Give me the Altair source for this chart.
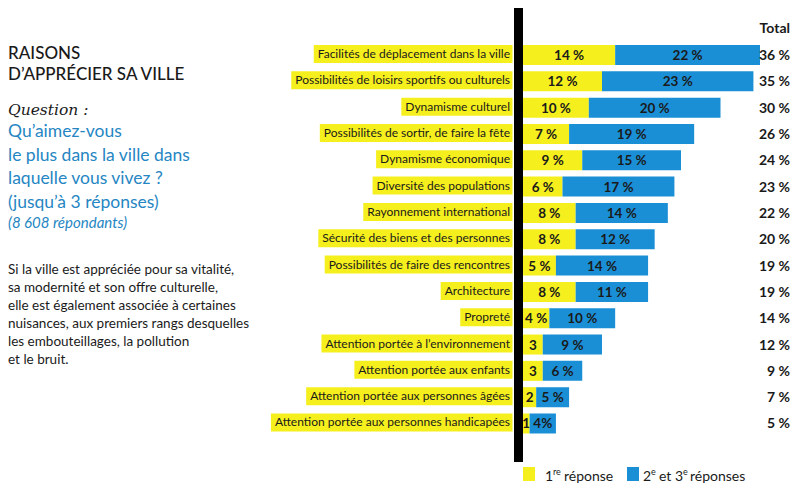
import unicodedata
import altair as alt
import pandas as pd

# ---------------- data ----------------
categories = [
    "Facilités de déplacement dans la ville",
    "Possibilités de loisirs sportifs ou culturels",
    "Dynamisme culturel",
    "Possibilités de sortir, de faire la fête",
    "Dynamisme économique",
    "Diversité des populations",
    "Rayonnement international",
    "Sécurité des biens et des personnes",
    "Possibilités de faire des rencontres",
    "Architecture",
    "Propreté",
    "Attention portée à l’environnement",
    "Attention portée aux enfants",
    "Attention portée aux personnes âgées",
    "Attention portée aux personnes handicapées",
]
first = [14, 12, 10, 7, 9, 6, 8, 8, 5, 8, 4, 3, 3, 2, 1]
second = [22, 23, 20, 19, 15, 17, 14, 12, 14, 11, 10, 9, 6, 5, 4]
total = [36, 35, 30, 26, 24, 23, 22, 20, 19, 19, 14, 12, 9, 7, 5]
first_labels = ["14 %", "12 %", "10 %", "7 %", "9 %", "6 %", "8 %", "8 %",
                "5 %", "8 %", "4 %", "3", "3", "2", "1"]
second_labels = ["22 %", "23 %", "20 %", "19 %", "15 %", "17 %", "14 %", "12 %",
                 "14 %", "11 %", "10 %", "9 %", "6 %", "5 %", "4%"]
total_labels = [f"{t} %" for t in total]

title_lines = ["RAISONS", "D’APPRÉCIER SA VILLE"]
question_head = "Question :"
question_lines = ["Qu’aimez-vous", "le plus dans la ville dans",
                  "laquelle vous vivez ?", "(jusqu’à 3 réponses)"]
respondents = "(8 608 répondants)"
body_lines = ["Si la ville est appréciée pour sa vitalité,",
              "sa modernité et son offre culturelle,",
              "elle est également associée à certaines",
              "nuisances, aux premiers rangs desquelles",
              "les embouteillages, la pollution",
              "et le bruit."]

# ---------------- style ----------------
YEL = "#f6ef1e"
BLUE = "#1a8fd6"
QBLUE = "#2586c3"
INK = "#1a1a1a"
FONT = "Lato"
LABEL_SIZE = 12

_W = {" ": 0.193, "a": 0.497, "b": 0.55, "c": 0.45, "d": 0.55, "e": 0.51, "f": 0.31,
      "g": 0.49, "h": 0.55, "i": 0.24, "j": 0.24, "k": 0.5, "l": 0.24, "m": 0.83,
      "n": 0.55, "o": 0.55, "p": 0.55, "q": 0.55, "r": 0.36, "s": 0.42, "t": 0.34,
      "u": 0.55, "v": 0.5, "w": 0.76, "x": 0.49, "y": 0.5, "z": 0.45, "A": 0.68,
      "D": 0.72, "F": 0.52, "P": 0.58, "R": 0.6, "S": 0.5, "’": 0.22, ",": 0.2, ".": 0.2}


def text_width(s, size):
    try:
        import glob
        from PIL import ImageFont
        p = sorted(glob.glob("/usr/share/fonts/**/Lato-Regular.ttf", recursive=True))[0]
        return ImageFont.truetype(p, 200).getlength(s) * size / 200
    except Exception:
        tot = 0.0
        for c in s:
            b = unicodedata.normalize("NFD", c)[0]
            tot += _W.get(b, 0.5)
        return tot * size


TEXT_RIGHT = 502
df = pd.DataFrame({
    "cat": categories,
    "first": first,
    "second": second,
    "lab1": first_labels,
    "lab2": second_labels,
    "totlab": total_labels,
})
df["box_left"] = [TEXT_RIGHT - text_width(c, LABEL_SIZE) - 4 for c in categories]

one = pd.DataFrame({"k": [0]})

xs = alt.Scale(domain=[0, 36], range=[515, 752])
pix = alt.Scale(domain=[0, 784], range=[0, 784])
y = alt.Y("cat:N", sort=None, axis=None,
          scale=alt.Scale(domain=categories, range=[33.84, 428.66],
                          paddingInner=0.24, paddingOuter=0.12))

base = alt.Chart(df)

boxes = base.transform_calculate(box_right="504.5").mark_bar(
    color=YEL, height=18, yOffset=-1).encode(
    x=alt.X("box_left:Q", scale=pix, axis=None), x2="box_right:Q", y=y)
labels = base.mark_text(align="right", baseline="middle", font=FONT,
                        fontSize=LABEL_SIZE, color=INK, dy=-1).encode(
    x=alt.value(TEXT_RIGHT), y=y, text="cat:N")

ybar = base.transform_calculate(zero="0").mark_bar(color=YEL).encode(
    x=alt.X("zero:Q", scale=xs, axis=None), x2="first:Q", y=y)
bbar = base.transform_calculate(end="datum.first + datum.second").mark_bar(color=BLUE).encode(
    x=alt.X("first:Q", scale=xs, axis=None), x2="end:Q", y=y)

ylab = base.transform_calculate(m="datum.first / 2").mark_text(
    font=FONT, fontWeight="bold", fontSize=13.5, baseline="middle", color=INK, dy=1).encode(
    x=alt.X("m:Q", scale=xs, axis=None), y=y, text="lab1:N")
blab = base.transform_calculate(m="datum.first + datum.second / 2").mark_text(
    font=FONT, fontWeight="bold", fontSize=13.5, baseline="middle", color=INK, dy=1).encode(
    x=alt.X("m:Q", scale=xs, axis=None), y=y, text="lab2:N")
tlab = base.mark_text(font=FONT, fontWeight="bold", fontSize=14, baseline="middle",
                      align="right", color=INK, dy=1).encode(
    x=alt.value(782), y=y, text="totlab:N")

deco = alt.Chart(one)
axisbar = deco.mark_rect(color="black").encode(
    x=alt.value(506), x2=alt.value(515), y=alt.value(0), y2=alt.value(454))
header = deco.mark_text(font=FONT, fontWeight="bold", fontSize=14, align="right",
                        baseline="alphabetic", color=INK).encode(
    x=alt.value(782), y=alt.value(25), text=alt.value("Total"))

# legend
leg_y = 473
leg = [
    deco.mark_rect(color=YEL).encode(x=alt.value(515), x2=alt.value(527),
                                     y=alt.value(leg_y - 14), y2=alt.value(leg_y)),
    deco.mark_rect(color=BLUE).encode(x=alt.value(619), x2=alt.value(631),
                                      y=alt.value(leg_y - 14), y2=alt.value(leg_y)),
]


def ltxt(txt, x, size=14, dy=0):
    return deco.mark_text(font=FONT, fontSize=size, align="left", baseline="alphabetic",
                          color=INK).encode(
        x=alt.value(x), y=alt.value(leg_y + dy), text=alt.value(txt))


leg += [ltxt("1", 537), ltxt("re", 545, 9, -6), ltxt("réponse", 556),
        ltxt("2", 635), ltxt("e", 643, 9, -6), ltxt("et 3", 651), ltxt("e", 675, 9, -6),
        ltxt("réponses", 682)]

# left panel
title = deco.mark_text(font=FONT, fontSize=17, fontWeight=500, align="left",
                       baseline="alphabetic", color=INK, lineBreak="\n",
                       lineHeight=21).encode(
    x=alt.value(0), y=alt.value(51), text=alt.value("\n".join(title_lines)))
qhead = deco.mark_text(font="DejaVu Serif", fontStyle="italic", fontSize=15.5,
                       align="left", baseline="alphabetic", color=INK).encode(
    x=alt.value(0), y=alt.value(107), text=alt.value(question_head))
qtext = deco.mark_text(font=FONT, fontSize=17.5, align="left", baseline="alphabetic",
                       color=QBLUE, lineBreak="\n", lineHeight=23.7).encode(
    x=alt.value(0), y=alt.value(129), text=alt.value("\n".join(question_lines)))
resp = deco.mark_text(font=FONT, fontStyle="italic", fontSize=15, align="left",
                      baseline="alphabetic", color=QBLUE).encode(
    x=alt.value(0), y=alt.value(220), text=alt.value(respondents))
body = deco.mark_text(font=FONT, fontSize=13.5, align="left", baseline="alphabetic",
                      color=INK, lineBreak="\n", lineHeight=18).encode(
    x=alt.value(0), y=alt.value(266), text=alt.value("\n".join(body_lines)))

chart = alt.layer(
    boxes, labels, ybar, bbar, ylab, blab, tlab, axisbar, header, *leg,
    title, qhead, qtext, resp, body,
).resolve_scale(x="independent").properties(
    width=784, height=476, padding=0, autosize=alt.AutoSizeParams(type="none"),
    background="white",
).configure_view(stroke=None)

chart.save("out.html", embed_options={"renderer": "svg", "actions": False})
